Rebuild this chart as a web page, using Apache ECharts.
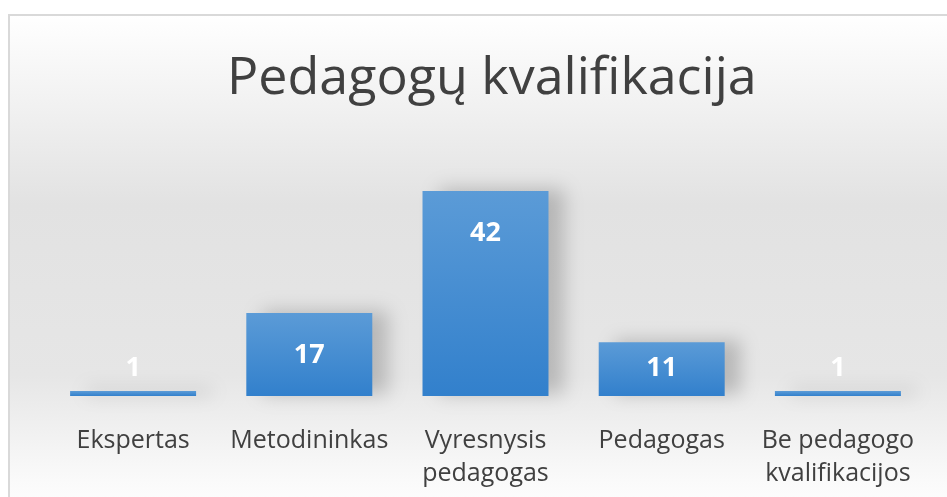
<!DOCTYPE html>
<html><head><meta charset="utf-8">
<style>html,body{margin:0;padding:0;background:#fff;}#c{width:947px;height:497px;}</style>
<script src="https://cdn.jsdelivr.net/npm/echarts@6/dist/echarts.min.js"></script>
</head><body><div id="c"></div>
<script>
const titleText = 'Pedagogų kvalifikacija';
const categories = ['Ekspertas', 'Metodininkas', 'Vyresnysis\npedagogas', 'Pedagogas', 'Be pedagogo\nkvalifikacijos'];
const values = [1, 17, 42, 11, 1];

const chart = echarts.init(document.getElementById('c'));
const font = 'Open Sans';
const data = values.map(v => ({
  value: v,
  label: v > 15 ? { position: 'insideTop', distance: 29 } : { position: 'insideBottom', distance: 14 }
}));
chart.setOption({
  animation: false,
  graphic: [{
    type: 'rect', z: -10, silent: true,
    shape: { x: 9, y: 15, width: 960, height: 500 },
    style: {
      fill: new echarts.graphic.LinearGradient(0, 0, 0, 1, [
        { offset: 0, color: '#ffffff' },
        { offset: 0.38, color: '#e2e2e2' },
        { offset: 0.72, color: '#e6e6e6' },
        { offset: 0.93, color: '#fafafa' },
        { offset: 1, color: '#ffffff' }
      ]),
      stroke: '#d9d9d9', lineWidth: 2
    }
  }],
  title: {
    text: titleText, left: 222, top: 48,
    textStyle: { fontFamily: font, fontSize: 52, fontWeight: 'normal', color: '#404040' }
  },
  grid: { left: 45, right: 21, top: 152, bottom: 101 },
  xAxis: {
    type: 'category', data: categories,
    axisLine: { show: false }, axisTick: { show: false },
    axisLabel: { fontFamily: font, fontSize: 25, color: '#404040', margin: 28, lineHeight: 33, interval: 0 }
  },
  yAxis: { type: 'value', min: 0, max: 50, show: false, splitLine: { show: false } },
  series: [{
    type: 'bar', data: data, barWidth: '71.5%',
    itemStyle: {
      color: new echarts.graphic.LinearGradient(0, 0, 0, 1, [
        { offset: 0, color: '#5b9bd7' },
        { offset: 1, color: '#3280cc' }
      ]),
      shadowColor: 'rgba(0,0,0,0.2)', shadowBlur: 18, shadowOffsetX: 16, shadowOffsetY: -2
    },
    label: { show: true, color: '#ffffff', fontFamily: font, fontSize: 27, fontWeight: 'bold' }
  }]
});
</script></body></html>
